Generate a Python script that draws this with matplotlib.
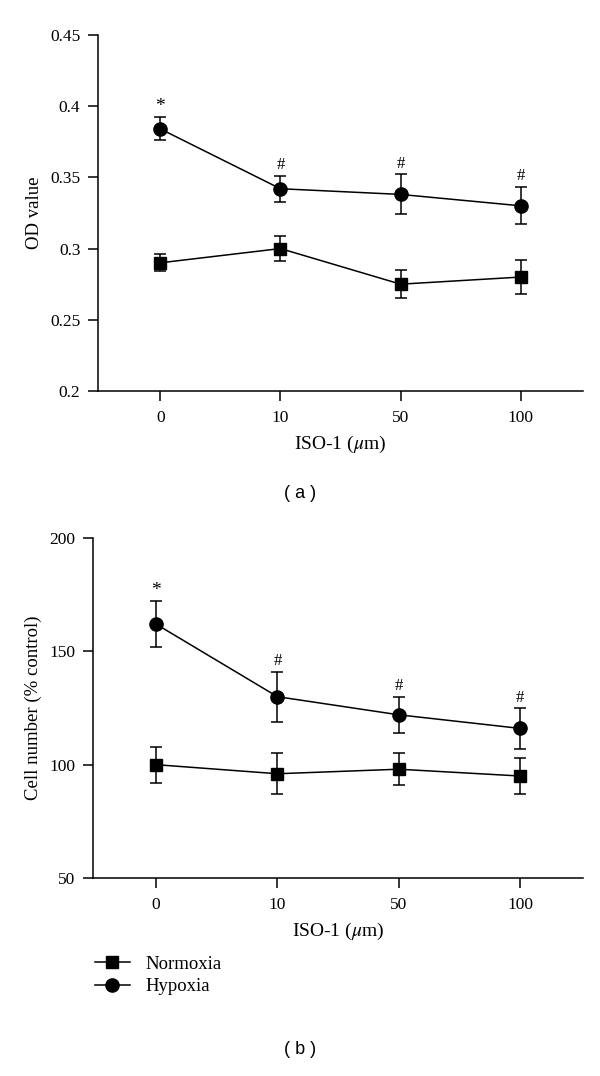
import numpy as np
import matplotlib
matplotlib.use("Agg")
import matplotlib.pyplot as plt
from matplotlib.lines import Line2D

# --- dane ---
doses = ["0", "10", "50", "100"]

od_normoxia = [0.290, 0.300, 0.275, 0.280]
od_normoxia_err = [0.006, 0.009, 0.010, 0.012]
od_hypoxia = [0.384, 0.342, 0.338, 0.330]
od_hypoxia_err = [0.008, 0.009, 0.014, 0.013]
od_marks = ["*", "#", "#", "#"]

cell_normoxia = [100, 96, 98, 95]
cell_normoxia_err = [8, 9, 7, 8]
cell_hypoxia = [162, 130, 122, 116]
cell_hypoxia_err = [10, 11, 8, 9]
cell_marks = ["*", "#", "#", "#"]

plt.rcParams["font.family"] = ["Liberation Serif", "DejaVu Serif"]
plt.rcParams["mathtext.fontset"] = "stix"


def draw_panel(ax, norm, norm_err, hyp, hyp_err, marks, ylim, yticks, ylabel, mark_off):
    x = np.arange(len(doses))
    ax.errorbar(x, norm, yerr=norm_err, color="black", marker="s", markersize=8,
                lw=1.1, elinewidth=1.1, capsize=4.5, capthick=1.1)
    ax.errorbar(x, hyp, yerr=hyp_err, color="black", marker="o", markersize=9.5,
                lw=1.1, elinewidth=1.1, capsize=4.5, capthick=1.1)
    for xi, v, e, m in zip(x, hyp, hyp_err, marks):
        ax.text(xi, v + e + mark_off, m, ha="center", va="bottom",
                fontsize=14 if m == "*" else 12)
    ax.set_xlim(-0.52, 3.52)
    ax.set_ylim(*ylim)
    ax.set_yticks(yticks)
    ax.set_yticklabels([f"{t:g}" for t in yticks])
    ax.set_xticks(x)
    ax.set_xticklabels(doses)
    ax.spines["top"].set_visible(False)
    ax.spines["right"].set_visible(False)
    for s in ["left", "bottom"]:
        ax.spines[s].set_linewidth(1.1)
    ax.tick_params(axis="both", length=7.5, width=1.1, labelsize=12.5, direction="out")
    ax.tick_params(axis="y", pad=5)
    ax.tick_params(axis="x", pad=6)
    ax.set_xlabel(r"ISO-1 ($\mu$m)", fontsize=14, labelpad=6)
    ax.set_ylabel(ylabel, fontsize=13.5, labelpad=5.5)


fig = plt.figure(figsize=(6, 10.76), dpi=100)

ax1 = fig.add_axes([0.163, 0.6366, 0.809, 0.331])
draw_panel(ax1, od_normoxia, od_normoxia_err, od_hypoxia, od_hypoxia_err, od_marks,
           (0.2, 0.45), [0.2, 0.25, 0.3, 0.35, 0.4, 0.45], "OD value", 0.002)

ax2 = fig.add_axes([0.155, 0.184, 0.817, 0.316])
draw_panel(ax2, cell_normoxia, cell_normoxia_err, cell_hypoxia, cell_hypoxia_err, cell_marks,
           (50, 200), [50, 100, 150, 200], "Cell number (% control)", 1.0)

fig.text(0.5, 1 - 493 / 1076, "( a )", ha="center", va="center", fontsize=13,
         family="Liberation Sans")
fig.text(0.5, 1 - 1050 / 1076, "( b )", ha="center", va="center", fontsize=13,
         family="Liberation Sans")

handles = [
    Line2D([], [], color="black", lw=1.1, marker="s", markersize=8),
    Line2D([], [], color="black", lw=1.1, marker="o", markersize=9.5),
]
fig.legend(handles, ["Normoxia", "Hypoxia"], loc="upper left",
           bbox_to_anchor=(0.145, 1 - 948 / 1076),
           frameon=False, fontsize=13.5, handlelength=1.9, handletextpad=0.8,
           labelspacing=0.3, borderaxespad=0)

fig.savefig("out.png", dpi=100)
